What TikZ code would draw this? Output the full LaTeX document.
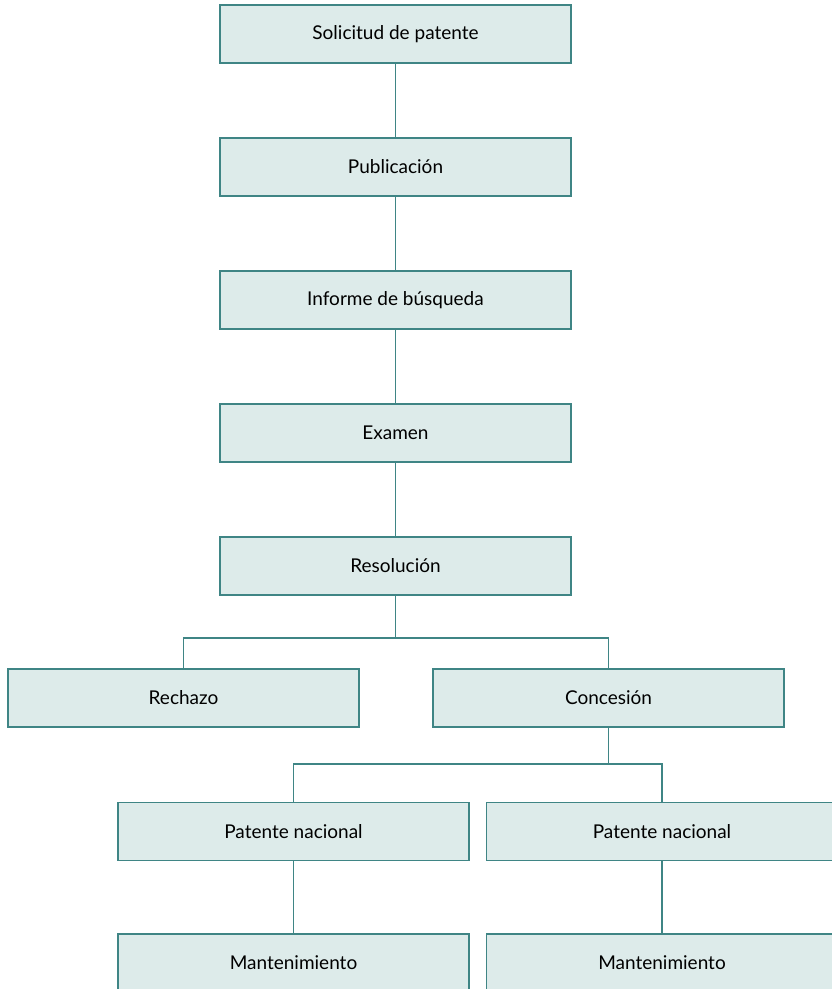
\documentclass[tikz,border=0pt]{standalone}
\usepackage{fontspec}
\setmainfont{Lato}
\usepackage{tikz}
\definecolor{tealline}{RGB}{63, 133, 133}
\definecolor{tealfill}{RGB}{221, 235, 234}

\tikzset{
  caja/.style={draw=tealline, line width=1.2pt, fill=tealfill, minimum width=351pt, minimum height=58pt, inner sep=0pt, font=\fontsize{19}{23}\selectfont},
  linea/.style={draw=tealline, line width=1.2pt}
}

\begin{document}
\begin{tikzpicture}[x=1pt, y=1pt]
    \useasboundingbox (0,0) rectangle (832,989);
    \clip (0,0) rectangle (832,989);

    % main chain
    \node[caja] (sol) at (395.5,955) {Solicitud de patente};
    \node[caja] (pub) at (395.5,822) {Publicación};
    \node[caja] (inf) at (395.5,689) {Informe de búsqueda};
    \node[caja] (exa) at (395.5,556) {Examen};
    \node[caja] (res) at (395.5,423) {Resolución};

    % outcome
    \node[caja] (rech) at (183.5,291) {Rechazo};
    \node[caja] (con) at (608.5,291) {Concesión};

    % granted
    \node[caja] (pat1) at (293.5,157.5) {Patente nacional};
    \node[caja] (pat2) at (662,157.5) {Patente nacional};
    \node[caja] (man1) at (293.5,26) {Mantenimiento};
    \node[caja] (man2) at (662,26) {Mantenimiento};

    \coordinate (ramaA) at (395.5,351);
    \coordinate (ramaB) at (608.5,225);

    \draw[linea] (sol) -- (pub);
    \draw[linea] (pub) -- (inf);
    \draw[linea] (inf) -- (exa);
    \draw[linea] (exa) -- (res);
    \draw[linea] (res.south) -- (ramaA) -| (rech.north);
    \draw[linea] (ramaA) -| (con.north);
    \draw[linea] (con.south) -- (ramaB) -| (pat1.north);
    \draw[linea] (ramaB) -| (pat2.north);
    \draw[linea] (pat1) -- (man1);
    \draw[linea] (pat2) -- (man2);
\end{tikzpicture}
\end{document}
